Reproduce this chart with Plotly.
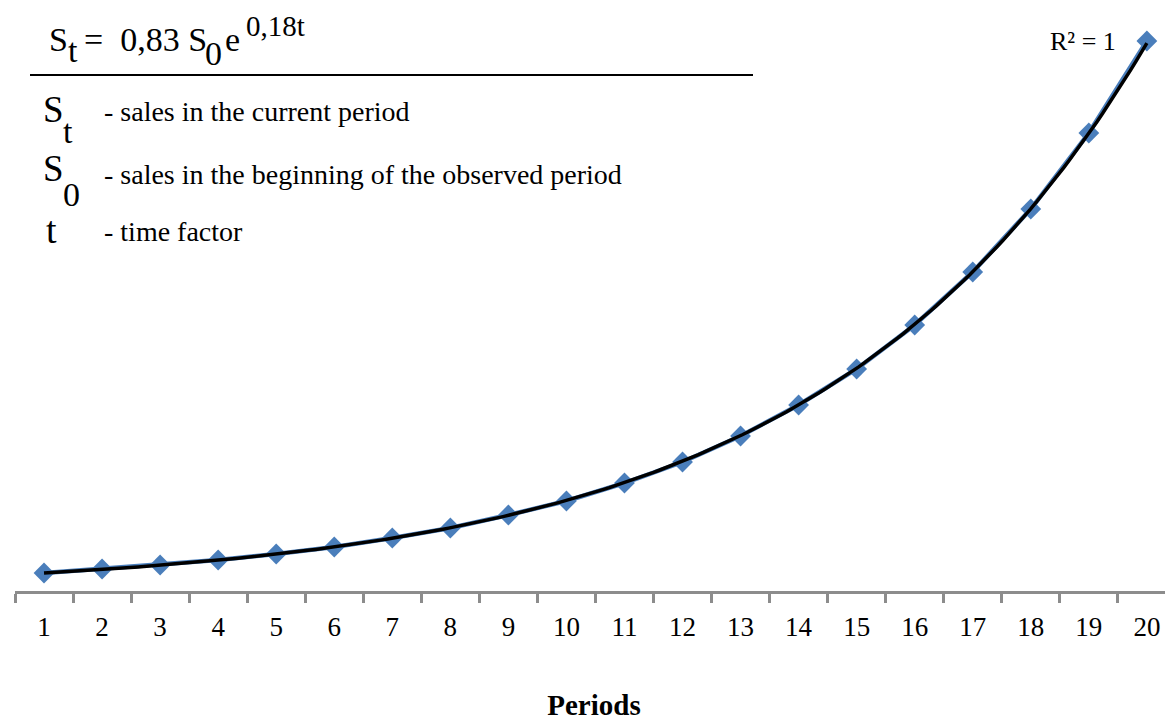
import numpy as np
import plotly.graph_objects as go

# ---- data ----
periods = list(range(1, 21))
sales = [18, 22, 26, 31, 37, 44, 53, 63, 76, 90, 108, 129, 155, 186, 222, 266, 319, 382, 458, 550]
tick_labels = [str(p) for p in periods]

# exponential trend fitted to the data (Excel-style exponential trendline)
coef = np.polyfit(periods, np.log(sales), 1, w=np.sqrt(sales))
t_dense = np.linspace(1, 20, 200)
trend = np.exp(coef[1]) * np.exp(coef[0] * t_dense)

# page offset (browser body margin) compensation
OFF = 8
W, H = 1173 - OFF, 722 - OFF
ML, MR, MT, MB = 15 - OFF, 0, 10 - OFF, 131
PW, PH = W - ML - MR, H - MT - MB

def px(x):
    return (x - OFF - ML) / PW

def py(y):
    return (H - MB - (y - OFF)) / PH

SERIF = "Liberation Serif, Times New Roman, serif"

fig = go.Figure()
fig.add_trace(go.Scatter(
    x=periods, y=sales, mode="lines+markers",
    line=dict(color="#4a7ebb", width=4.5),
    marker=dict(symbol="diamond", size=16, color="#4a7ebb"),
    showlegend=False, hoverinfo="x+y"))
fig.add_trace(go.Scatter(
    x=t_dense, y=trend, mode="lines",
    line=dict(color="black", width=3.5),
    showlegend=False, hoverinfo="skip"))

ann = []
def add(text, x, baseline, size, xanchor="left"):
    # position given by left edge and text baseline (pixels of the page)
    y = baseline - 0.32 * size
    ann.append(dict(text=text, x=px(x), y=py(y), xref="paper", yref="paper",
                    xanchor=xanchor, yanchor="middle", showarrow=False,
                    borderpad=0,
                    font=dict(family=SERIF, size=size, color="black")))

NB = "\u00a0"
# formula  S_t = 0,83 S_0 e^(0,18t)
add("S", 48, 50, 34)
add("t", 67, 61, 34)
add("=" + NB + NB + "0,83 S", 83, 50, 34)
add("0", 204, 64, 34)
add("e", 224, 50, 34)
add("0,18t", 245, 35, 29)

# legend of symbols
add("S", 42, 121, 37)
add("t", 62, 142, 34)
add("- sales in the current period", 103, 120, 28)
add("S", 42, 180, 37)
add("0", 62, 205, 34)
add("- sales in the beginning of the observed period", 103, 183, 28)
add("t", 45, 242, 38)
add("- time factor", 103, 240, 28)
add("R² = 1", 1083, 50, 26, xanchor="center")

fig.update_layout(
    width=W, height=H,
    margin=dict(l=ML, r=MR, t=MT, b=MB),
    paper_bgcolor="white", plot_bgcolor="white",
    annotations=ann,
    shapes=[dict(type="line", xref="paper", yref="paper",
                 x0=px(30), x1=px(753), y0=py(75), y1=py(75),
                 line=dict(color="black", width=2))],
    xaxis=dict(
        range=[0.5, 20.45], tickmode="array", tickvals=periods, ticktext=tick_labels,
        ticks="", showgrid=False, zeroline=False,
        showline=True, linecolor="#8c8c8c", linewidth=3,
        tickfont=dict(family=SERIF, size=27, color="black"),
        ticklabelstandoff=10,
        minor=dict(tickmode="array", tickvals=[p + 0.5 for p in [0] + periods],
                   ticks="outside", ticklen=9, tickwidth=3, tickcolor="#8c8c8c",
                   showgrid=False),
        title=dict(text="<b>Periods</b>", font=dict(family=SERIF, size=29, color="black"),
                   standoff=54),
        automargin=False,
    ),
    yaxis=dict(range=[0, PH], visible=False, showgrid=False, zeroline=False),
)

fig.write_html("out.html")
